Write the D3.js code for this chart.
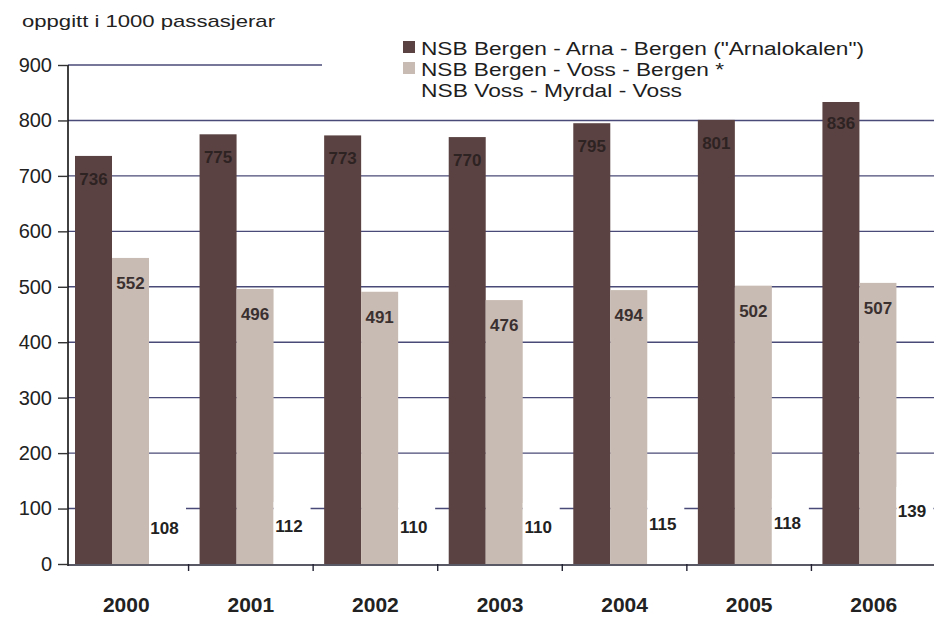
<!DOCTYPE html>
<html><head><meta charset="utf-8">
<script src="https://cdn.jsdelivr.net/npm/d3@7"></script>
<style>body{margin:0;background:#fff}svg{display:block}</style>
</head><body>
<svg id="c" width="934" height="618"></svg>
<script>
const years = ["2000","2001","2002","2003","2004","2005","2006"];
const seriesNames = ["NSB Bergen - Arna - Bergen (\"Arnalokalen\")","NSB Bergen - Voss - Bergen *","NSB Voss - Myrdal - Voss"];
const arnaValues = [736,775,773,770,795,801,836];
const vossValues = [552,496,491,476,494,502,507];
const myrdalValues = [108,112,110,110,115,118,139];
const yTicks = [0,100,200,300,400,500,600,700,800,900];
const unitLabel = "oppgitt i 1000 passasjerar";

const seriesValues = [arnaValues, vossValues, myrdalValues];
const colors = ["#5b4242","#c8bbb3","#ffffff"];
const labelColors = ["#2e2323","#3a3030","#222222"];

const svg = d3.select("#c");
const x0 = d3.scaleBand().domain(years).range([64, 936]);
const x1 = d3.scaleBand().domain([0,1,2]).range([11, 122]);
const y = d3.scaleLinear().domain([0,900]).range([564,65]);
const left = 68, right = 934;

// gridlines
svg.append("g").selectAll("line").data(yTicks.filter(t=>t>0)).join("line")
  .attr("x1", left).attr("x2", right)
  .attr("y1", d=>y(d)).attr("y2", d=>y(d))
  .attr("stroke", "#4a4a78").attr("stroke-width", 1.4);

// bars
const g = svg.append("g");
years.forEach((yr,i)=>{
  seriesValues.forEach((vals,s)=>{
    g.append("rect")
      .attr("x", x0(yr)+x1(s)).attr("width", x1.bandwidth())
      .attr("y", y(vals[i])).attr("height", y(0)-y(vals[i]))
      .attr("fill", colors[s]);
  });
});
// labels
const offs = [29, 31, 30];
const sizes = [17, 17, 17];
years.forEach((yr,i)=>{
  seriesValues.forEach((vals,s)=>{
    g.append("text")
      .attr("x", x0(yr)+x1(s)+x1.bandwidth()/2 - (s===2?3:0))
      .attr("y", y(vals[i])+offs[s])
      .attr("text-anchor","middle")
      .attr("font-family","Liberation Sans, Arial, sans-serif")
      .attr("font-weight","bold").attr("font-size", sizes[s])
      .attr("fill", labelColors[s])
      .text(vals[i]);
  });
});

// y axis
const ya = svg.append("g").attr("transform",`translate(${left},0)`)
  .call(d3.axisLeft(y).tickValues(yTicks).tickSize(10).tickPadding(6));
ya.select(".domain").attr("stroke","#111").attr("stroke-width",1.6).attr("d",`M0,${y(900)}V${y(0)+2}`);
ya.selectAll(".tick line").attr("stroke","#333").attr("stroke-width",1.4);
ya.selectAll(".tick text").attr("font-family","Liberation Sans, Arial, sans-serif")
  .attr("font-size",20).attr("fill","#222");

// x axis
svg.append("line").attr("x1",left).attr("x2",right).attr("y1",y(0)+1).attr("y2",y(0)+1)
  .attr("stroke","#223").attr("stroke-width",1.6);
svg.append("g").selectAll("line").data(years.slice(0,-1)).join("line")
  .attr("x1",d=>x0(d)+x0.bandwidth()).attr("x2",d=>x0(d)+x0.bandwidth())
  .attr("y1",y(0)).attr("y2",y(0)+7).attr("stroke","#223").attr("stroke-width",1.4);
svg.append("g").selectAll("text").data(years).join("text")
  .attr("x",d=>x0(d)+x0.bandwidth()/2).attr("y",612)
  .attr("text-anchor","middle")
  .attr("font-family","Liberation Sans, Arial, sans-serif")
  .attr("font-weight","bold").attr("font-size",21).attr("fill","#222")
  .text(d=>d);

// title
svg.append("text").attr("x",22).attr("y",27)
  .attr("font-family","Liberation Sans, Arial, sans-serif").attr("font-size",17)
  .attr("fill","#222").attr("textLength",253).attr("lengthAdjust","spacingAndGlyphs")
  .text(unitLabel);

// legend
svg.append("rect").attr("x",322).attr("y",30).attr("width",612).attr("height",72).attr("fill","#fff");
const legW = [443, 303, 261];
seriesNames.forEach((n,s)=>{
  svg.append("rect").attr("x",403).attr("y",41+s*21).attr("width",12).attr("height",12)
    .attr("fill",colors[s]);
  svg.append("text").attr("x",421).attr("y",55+s*21)
    .attr("font-family","Liberation Sans, Arial, sans-serif").attr("font-size",18)
    .attr("fill","#1e1e1e").attr("textLength",legW[s]).attr("lengthAdjust","spacingAndGlyphs")
    .text(n);
});
</script>
</body></html>
